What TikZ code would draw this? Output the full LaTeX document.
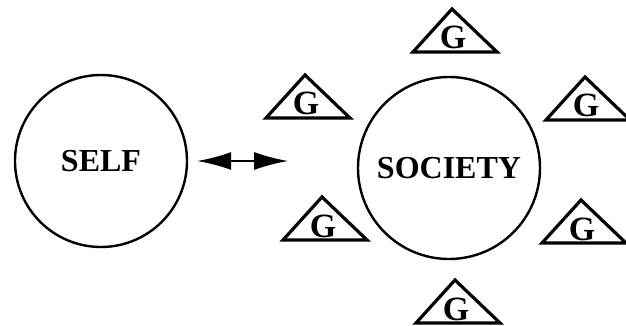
\documentclass[tikz,border=0pt]{standalone}
\usepackage{fontspec}
\setmainfont{Liberation Serif}
\usetikzlibrary{arrows.meta,positioning}
\tikzset{
  circ/.style={draw,circle,line width=1.2pt,inner sep=0pt,font=\fontsize{16}{18}\selectfont\bfseries},
  tri/.style={draw,line width=1.6pt,line join=miter},
  glab/.style={inner sep=0pt,anchor=base,font=\fontsize{17}{18}\selectfont\bfseries},
  ar/.style={{Latex[length=17pt,width=9pt]}-{Latex[length=17pt,width=9pt]},line width=0.8pt},
}
\begin{document}
\begin{tikzpicture}[x=0.5pt,y=-0.5pt]
\useasboundingbox (0,0) rectangle (626,326);
\node[circ,minimum size=86pt] (self) at (101,161) {SELF};
\node[circ,minimum size=91pt] (soc) at (449,168) {SOCIETY};
% groups round society
\foreach \x/\y [count=\i] in {455/52,308/118,588/120,325/240,584/243,458/323}{
  \draw[tri] (\x-42,\y) -- (\x-3,\y-43) -- (\x+42,\y) -- cycle;
  \node[glab] (g\i) at (\x-2,\y-3) {G};
}
\coordinate (arrR) at (288,161);
\draw[ar,shorten <=4.5pt] (self) -- (arrR);
\end{tikzpicture}
\end{document}
